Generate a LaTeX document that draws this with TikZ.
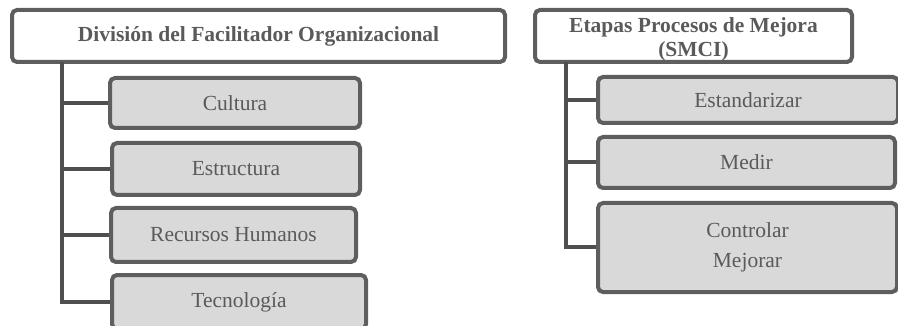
\documentclass[tikz,border=0pt]{standalone}
\usepackage{fontspec}
\setmainfont{Liberation Serif}
\definecolor{boxline}{HTML}{5E5E5E}
\definecolor{linkc}{HTML}{4F4F4F}
\definecolor{boxfill}{HTML}{D9D9D9}
\definecolor{boxtext}{HTML}{5A5A5A}
\begin{document}
\begin{tikzpicture}[x=1pt,y=-1pt,
  box/.style={draw=boxline, line width=4pt, rounded corners=5pt, inner sep=0pt,
    align=center, text=boxtext},
  head/.style={box, fill=white, font=\bfseries\fontsize{21.5}{24}\selectfont},
  item/.style={box, fill=boxfill, font=\fontsize{21.5}{30}\selectfont},
  link/.style={draw=linkc, line width=4pt}]
\useasboundingbox (0,0) rectangle (898,326);
\clip (0,0) rectangle (898,326);

% left tree
\node[head, minimum width=493pt, minimum height=52pt] (h1) at (258.5,36) {División del Facilitador Organizacional};
\node[item, minimum width=250pt, minimum height=50pt] (c1) at (235,103) {Cultura};
\node[item, minimum width=248pt, minimum height=52pt] (c2) at (236,169) {Estructura};
\node[item, minimum width=245pt, minimum height=54pt] (c3) at (233.5,235) {Recursos Humanos};
\node[item, minimum width=254pt, minimum height=54pt] (c4) at (239,302) {Tecnología};
\coordinate (t1) at (62,62);
\draw[link] (t1) |- (c1.west);
\draw[link] (t1) |- (c2.west);
\draw[link] (t1) |- (c3.west);
\draw[link] (t1) |- (c4.west);

% right tree; the two-line title sits a little low in its box
\node[head, minimum width=317pt, minimum height=52pt] (h2) at (693.5,36)
  {\raisebox{-4pt}[\height][\depth]{\begin{tabular}{@{}c@{}}Etapas Procesos de Mejora\\(SMCI)\hspace{11pt}\end{tabular}}};
\node[item, minimum width=300pt, minimum height=46pt] (d1) at (748,100) {Estandarizar};
\node[item, minimum width=297pt, minimum height=51pt] (d2) at (746.5,162.5) {Medir};
\node[item, minimum width=299pt, minimum height=89pt] (d3) at (747.5,247.5) {Controlar\\Mejorar};
\coordinate (t2) at (566,62);
\draw[link] (t2) |- (d1.west);
\draw[link] (t2) |- (d2.west);
\draw[link] (t2) |- (d3.west);
\end{tikzpicture}
\end{document}
